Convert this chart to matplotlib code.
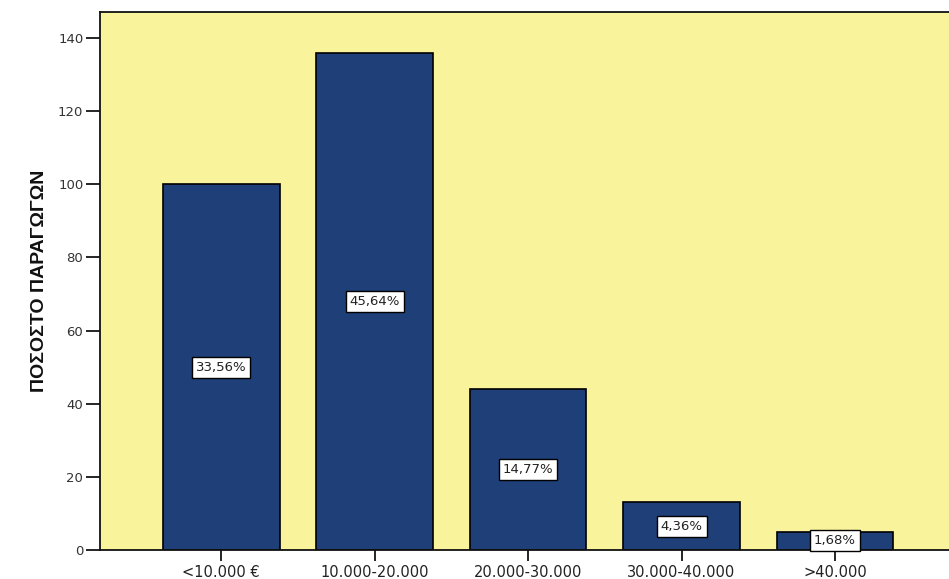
import matplotlib
matplotlib.use("Agg")
import matplotlib.pyplot as plt
import numpy as np

# data
categories = ['<10.000 €', '10.000-20.000', '20.000-30.000', '30.000-40.000', '>40.000']
counts = [100, 136, 44, 13, 5]
percent_labels = ['33,56%', '45,64%', '14,77%', '4,36%', '1,68%']
y_ticks = [0, 20, 40, 60, 80, 100, 120, 140]

bg_yellow = '#F9F39C'
bar_blue = '#1F3F78'

fig = plt.figure(figsize=(9.49, 5.79), dpi=100)
fig.patch.set_facecolor('white')
ax = fig.add_axes([100 / 949, 1 - 550 / 579, 849 / 949, 538 / 579])
ax.set_facecolor(bg_yellow)

x = np.arange(len(categories))
ax.bar(x, counts, width=0.76, color=bar_blue, edgecolor='black', linewidth=1.2, zorder=2)

# percentage boxes in the middle of each bar
for xi, c, lab in zip(x, counts, percent_labels):
    ax.text(xi, c / 2, lab, ha='center', va='center', fontsize=9.5, color='#222222',
            family='DejaVu Sans', zorder=3,
            bbox=dict(boxstyle='square,pad=0.3', facecolor='white', edgecolor='black', linewidth=1))

ax.set_xlim(-0.79, 4.743)
ax.set_ylim(0, 147.1)
ax.set_yticks(y_ticks)
ax.set_xticks(x)
ax.set_xticklabels(categories, fontsize=10.5, color='#222222')
for t in ax.get_yticklabels():
    t.set_fontsize(9.5)
    t.set_color('#333333')
ax.tick_params(axis='y', direction='out', length=10, width=1.2, pad=2)
ax.tick_params(axis='x', direction='out', length=8, width=1.2, pad=3)

ax.spines['right'].set_visible(False)
for s in ['left', 'top', 'bottom']:
    ax.spines[s].set_linewidth(1.3)
    ax.spines[s].set_color('#111111')

ax.set_ylabel('ΠΟΣΟΣΤΟ ΠΑΡΑΓΩΓΩΝ', fontsize=14, fontweight='bold',
              family=['Liberation Sans', 'DejaVu Sans'], color='#111111', labelpad=7)

fig.savefig('out.png', dpi=100)
